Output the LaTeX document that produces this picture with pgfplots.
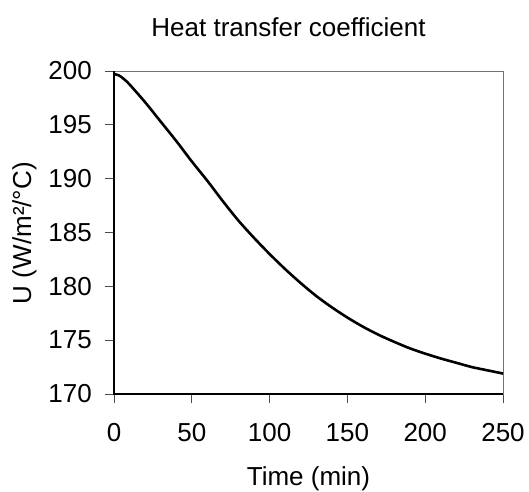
\documentclass[border=0pt]{standalone}
\usepackage{fontspec}
\setmainfont{Liberation Sans}
\usepackage{pgfplots}
\pgfplotsset{compat=1.18}
\begin{document}
\begin{tikzpicture}[x=1pt,y=1pt]
\useasboundingbox (0,0) rectangle (529,491);
\begin{axis}[
  at={(114pt,97pt)}, anchor=south west,
  scale only axis, width=389pt, height=323pt,
  xmin=0, xmax=250, ymin=170, ymax=200,
  xtick={0,50,...,250}, ytick={170,175,...,200},
  xtick pos=left, ytick pos=left,
  tick align=outside, major tick length=9pt,
  tick style={black!70, line width=0.9pt},
  axis line style={black!55, line width=0.9pt},
  /pgf/number format/assume math mode=true,
  tick label style={font=\fontsize{26}{31}\selectfont, inner sep=0pt},
  xticklabel style={anchor=base, yshift=-38pt},
  yticklabel style={anchor=east, xshift=-13pt},
  title={Heat transfer coefficient},
  title style={font=\fontsize{26}{31}\selectfont, at={(axis description cs:0.5,1)}, anchor=base, yshift=29pt, xshift=-20pt, inner sep=0pt},
  xlabel={Time (min)},
  xlabel style={font=\fontsize{26}{31}\selectfont, at={(axis description cs:0.5,0)}, anchor=base, yshift=-91pt, inner sep=0pt},
  ylabel={U (W/m²/°C)},
  ylabel style={font=\fontsize{26}{31}\selectfont, at={(axis description cs:-0.213,0.498)}, anchor=base, inner sep=0pt},
  clip=false,
]
\draw[black, line width=1.1pt] (rel axis cs:0,1) -- (rel axis cs:0,0) -- (rel axis cs:1,0);
\addplot[black, line width=2.6pt, smooth, tension=0.5] coordinates {
(0,199.72) (3,199.6) (6,199.3) (10,198.75) (20,197.1) (30,195.3) (40,193.5)
(50,191.6) (60,189.8) (70,187.9) (80,186.1) (90,184.5) (100,183.0)
(110,181.6) (120,180.3) (130,179.1) (140,178.05) (150,177.1) (160,176.25)
(170,175.5) (180,174.85) (190,174.25) (200,173.75) (210,173.3) (220,172.9)
(230,172.5) (240,172.2) (250,171.9)
};
\end{axis}
\end{tikzpicture}
\end{document}
